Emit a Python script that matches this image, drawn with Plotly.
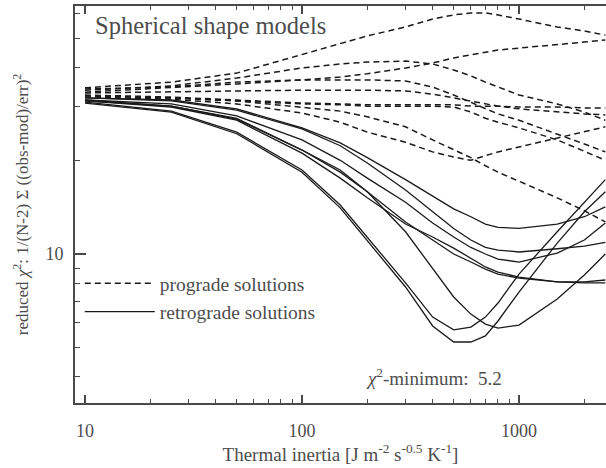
import plotly.graph_objects as go

# Thermal inertia grid (x values)
ti = [10, 25, 50, 100, 150, 200, 300, 400, 500, 600, 700, 800, 1000, 1500, 2000, 2500]

# Prograde solutions (dashed)
pro_1 = [34.5, 36.0, 38.5, 44.1, 47.8, 50.8, 54.3, 57.6, 59.4, 60.3, 60.3, 59.4, 57.6, 54.3, 52.7, 51.1]
pro_2 = [33.9, 35.0, 37.1, 40.0, 41.2, 41.8, 42.1, 41.2, 39.4, 37.7, 36.0, 34.7, 32.7, 30.6, 28.8, 27.1]
pro_3 = [34.2, 34.7, 36.0, 36.6, 37.4, 38.3, 40.0, 41.5, 43.1, 44.1, 45.0, 45.7, 46.4, 47.5, 48.5, 49.3]
pro_4 = [33.4, 34.5, 35.5, 36.6, 36.6, 36.6, 36.3, 34.7, 32.7, 31.0, 29.7, 28.4, 27.1, 24.5, 22.7, 21.4]
pro_5 = [33.2, 33.4, 33.7, 33.9, 33.9, 33.9, 33.7, 32.9, 32.0, 31.3, 30.6, 30.1, 29.5, 28.8, 28.4, 28.2]
pro_6 = [32.7, 32.2, 31.5, 30.8, 30.6, 30.4, 30.4, 30.4, 30.4, 30.1, 30.1, 30.1, 29.9, 29.9, 29.7, 29.7]
pro_7 = [32.5, 32.0, 31.3, 30.6, 30.4, 30.1, 30.1, 30.1, 29.9, 28.8, 27.5, 26.7, 25.6, 23.4, 21.5, 20.1]
pro_8 = [32.2, 31.7, 30.6, 28.6, 26.7, 24.8, 23.0, 21.4, 20.6, 20.1, 20.8, 21.4, 22.2, 23.7, 24.8, 25.8]
pro_9 = [32.5, 32.0, 31.3, 29.9, 29.0, 27.8, 25.8, 23.4, 21.7, 20.5, 19.3, 18.4, 17.2, 15.2, 13.8, 12.7]

# Retrograde solutions (solid)
retro_1 = [32.0, 31.5, 29.5, 25.6, 22.9, 20.5, 17.4, 15.4, 14.0, 13.2, 12.5, 12.2, 12.1, 12.5, 13.2, 14.2]
retro_2 = [32.0, 31.3, 29.2, 25.4, 22.4, 19.7, 16.1, 13.7, 12.1, 11.1, 10.5, 10.3, 10.15, 10.4, 10.6, 10.9]
retro_3 = [31.5, 30.6, 28.0, 23.4, 20.1, 17.6, 14.7, 12.6, 11.35, 10.5, 10.0, 9.63, 9.42, 10.07, 11.1, 12.6]
retro_4 = [31.3, 30.1, 27.3, 21.7, 18.4, 15.9, 12.7, 11.1, 10.0, 9.42, 8.94, 8.61, 8.36, 8.12, 8.12, 8.24]
retro_5 = [31.3, 29.9, 27.1, 21.2, 17.6, 15.2, 12.5, 11.35, 10.45, 9.7, 9.08, 8.74, 8.42, 8.12, 8.06, 8.06]
retro_6 = [31.5, 30.1, 27.5, 21.7, 18.7, 15.9, 11.8, 9.01, 7.26, 6.39, 5.93, 5.76, 5.89, 7.15, 8.55, 10.0]
retro_7 = [31.0, 29.0, 24.8, 18.7, 14.4, 11.3, 8.06, 6.25, 5.68, 5.80, 6.25, 6.94, 8.61, 11.8, 14.7, 17.4]
retro_8 = [30.8, 28.8, 24.5, 18.4, 14.1, 11.0, 7.82, 5.85, 5.19, 5.19, 5.43, 6.07, 7.53, 10.85, 13.7, 15.9]

prograde = [pro_1, pro_2, pro_3, pro_4, pro_5, pro_6, pro_7, pro_8, pro_9]
retrograde = [retro_1, retro_2, retro_3, retro_4, retro_5, retro_6, retro_7, retro_8]

x_major = [10, 100, 1000]
x_minor = [20, 30, 40, 50, 60, 70, 80, 90, 200, 300, 400, 500, 600, 700, 800, 900, 2000]
y_major = [10]
y_minor = [4, 5, 6, 7, 8, 9, 20, 30, 40, 50, 60]

LINE = "#1a1a1a"
AX = "#4a4a4a"
TXT = "#4d4d4d"
FONT = "Liberation Serif, DejaVu Serif, serif"

fig = go.Figure()
for i, ys in enumerate(prograde):
    fig.add_trace(go.Scatter(
        x=ti, y=ys, mode="lines", name="prograde solutions",
        legendgroup="pro", showlegend=(i == 0),
        line=dict(color=LINE, width=1.5, dash="6px,4px")))
for i, ys in enumerate(retrograde):
    fig.add_trace(go.Scatter(
        x=ti, y=ys, mode="lines", name="retrograde solutions",
        legendgroup="retro", showlegend=(i == 0),
        line=dict(color=LINE, width=1.3)))

fig.update_layout(
    template="none",
    width=606, height=468,
    margin=dict(l=75, r=0, t=6, b=65, pad=0),
    plot_bgcolor="white", paper_bgcolor="white",
    font=dict(family=FONT, size=17, color=TXT),
    legend=dict(x=0.009, xanchor="left", y=0.35, yanchor="top",
                bgcolor="rgba(0,0,0,0)", font=dict(family=FONT, size=19.5, color=TXT),
                itemwidth=70, traceorder="grouped", tracegroupgap=0),
    xaxis=dict(
        type="log", range=[0.9539, 3.4009], automargin=False,
        tickmode="array", tickvals=x_major, ticktext=[str(v) for v in x_major],
        ticks="inside", ticklen=8, tickwidth=1.5, tickcolor=AX,
        showline=True, linecolor=AX, linewidth=2, mirror="ticks",
        showgrid=False, zeroline=False,
        tickfont=dict(family=FONT, size=18, color=TXT), ticklabelstandoff=10,
        minor=dict(tickmode="array", tickvals=x_minor, ticks="inside", ticklen=4,
                   tickwidth=1.2, tickcolor=AX, showgrid=False),
        title=dict(text="Thermal inertia [J m<sup>-2</sup> s<sup>-0.5</sup> K<sup>-1</sup>]",
                   font=dict(family=FONT, size=19, color=TXT), standoff=8),
    ),
    yaxis=dict(
        type="log", range=[0.5178, 1.8026], automargin=False,
        tickmode="array", tickvals=y_major, ticktext=[str(v) for v in y_major],
        ticks="inside", ticklen=11, tickwidth=1.5, tickcolor=AX,
        showline=True, linecolor=AX, linewidth=2, mirror=False,
        showgrid=False, zeroline=False,
        tickfont=dict(family=FONT, size=18, color=TXT), ticklabelstandoff=6,
        minor=dict(tickmode="array", tickvals=y_minor, ticks="inside", ticklen=5,
                   tickwidth=1.2, tickcolor=AX, showgrid=False),
        title=dict(text="reduced <i>χ</i><sup>2</sup>: 1/(N-2) Σ ((obs-mod)/err)<sup>2</sup>",
                   font=dict(family=FONT, size=17, color=TXT), standoff=12),
    ),
    annotations=[
        dict(text="Spherical shape models", xref="paper", yref="paper",
             x=0.034, y=0.952, xanchor="left", yanchor="middle", showarrow=False,
             font=dict(size=24.5, color=TXT, family=FONT)),
        dict(text="<i>χ</i><sup>2</sup>-minimum:  5.2", xref="paper", yref="paper",
             x=0.676, y=0.0655, xanchor="center", yanchor="middle", showarrow=False,
             font=dict(size=19, color=TXT, family=FONT)),
    ],
)

fig.write_html("out.html", config={"displayModeBar": False},
               post_script="document.body.style.margin='0';document.body.style.overflow='hidden';")
